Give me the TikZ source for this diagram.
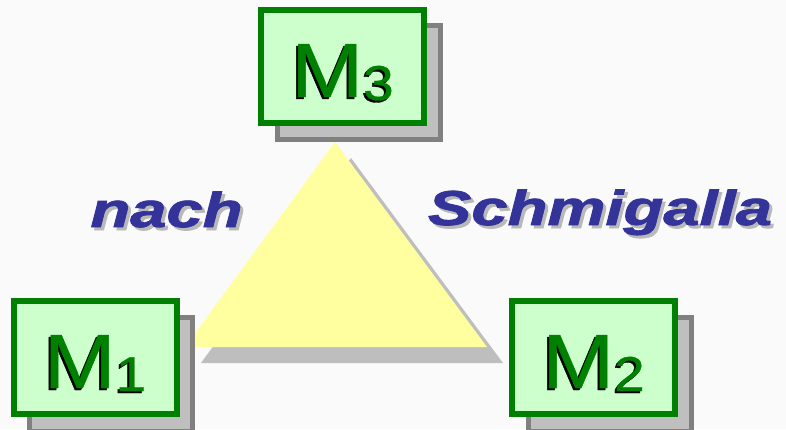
\documentclass[tikz,border=0pt]{standalone}
\usepackage{fontspec}
\setmainfont{Liberation Sans}
\newfontfamily\lblfont[FakeBold=1.5]{Liberation Sans Bold Italic}
\newfontfamily\mfont[FakeBold=0.6]{Liberation Sans}
\definecolor{bg}{RGB}{250,250,250}
\definecolor{boxgreen}{RGB}{0,128,0}
\definecolor{boxfill}{RGB}{204,255,204}
\definecolor{shfill}{RGB}{191,191,191}
\definecolor{shedge}{RGB}{128,128,128}
\definecolor{trifill}{RGB}{255,255,160}
\definecolor{trishadow}{RGB}{190,190,190}
\definecolor{labelblue}{RGB}{51,51,153}
\definecolor{labelshadow}{RGB}{185,185,185}
\begin{document}
\begin{tikzpicture}[x=1pt,y=1pt,
  mbox/.style={draw=boxgreen, fill=boxfill, line width=6pt, minimum width=163pt, minimum height=113pt, inner sep=0pt},
  mshadow/.style={draw=shedge, fill=shfill, line width=5pt, minimum width=163pt, minimum height=114pt, inner sep=0pt},
  mtext/.style={font=\mfont\fontsize{77}{77}\selectfont, inner sep=0pt, xscale=1.12, anchor=base, text=boxgreen},
  mtextshadow/.style={mtext, text=black},
  lbl/.style={font=\lblfont\fontsize{49}{49}\selectfont, inner sep=0pt, xscale=1.33, anchor=base, text=labelblue},
  lblshadow/.style={lbl, text=labelshadow}
]
\fill[bg] (0,0) rectangle (786,429);
\useasboundingbox (0,0) rectangle (786,429);

% triangle with its shadow
\fill[trishadow] (201,66) -- (351,271) -- (503,66) -- cycle;
\fill[trifill] (185,82) -- (335,287) -- (487,82) -- cycle;

% shadow boxes
\node[mshadow] (m3s) at (358.5,346) {};
\node[mshadow] (m1s) at (111,54.5) {};
\node[mshadow] (m2s) at (610,54.5) {};

% green boxes
\node[mbox] (m3) at (342.5,362.5) {};
\node[mbox] (m1) at (95,71.5) {};
\node[mbox] (m2) at (593.5,71.5) {};

% box texts
\newcommand{\msub}[1]{\raisebox{-3pt}{\fontsize{49}{49}\selectfont #1}}
\node[mtextshadow] (t3s) at (340.5,330) {M\msub{3}};
\node[mtext] (t3) at (342.5,332) {M\msub{3}};
\node[mtextshadow] (t1s) at (93,39) {M\msub{1}};
\node[mtext] (t1) at (95,41) {M\msub{1}};
\node[mtextshadow] (t2s) at (591.5,39) {M\msub{2}};
\node[mtext] (t2) at (593.5,41) {M\msub{2}};

% labels
\node[lblshadow] (nachs) at (169.5,199) {nach};
\node[lbl] (nach) at (166.5,202) {nach};
\node[lblshadow] (schs) at (603,201) {Schmigalla};
\node[lbl] (sch) at (600,204) {Schmigalla};
\end{tikzpicture}
\end{document}
